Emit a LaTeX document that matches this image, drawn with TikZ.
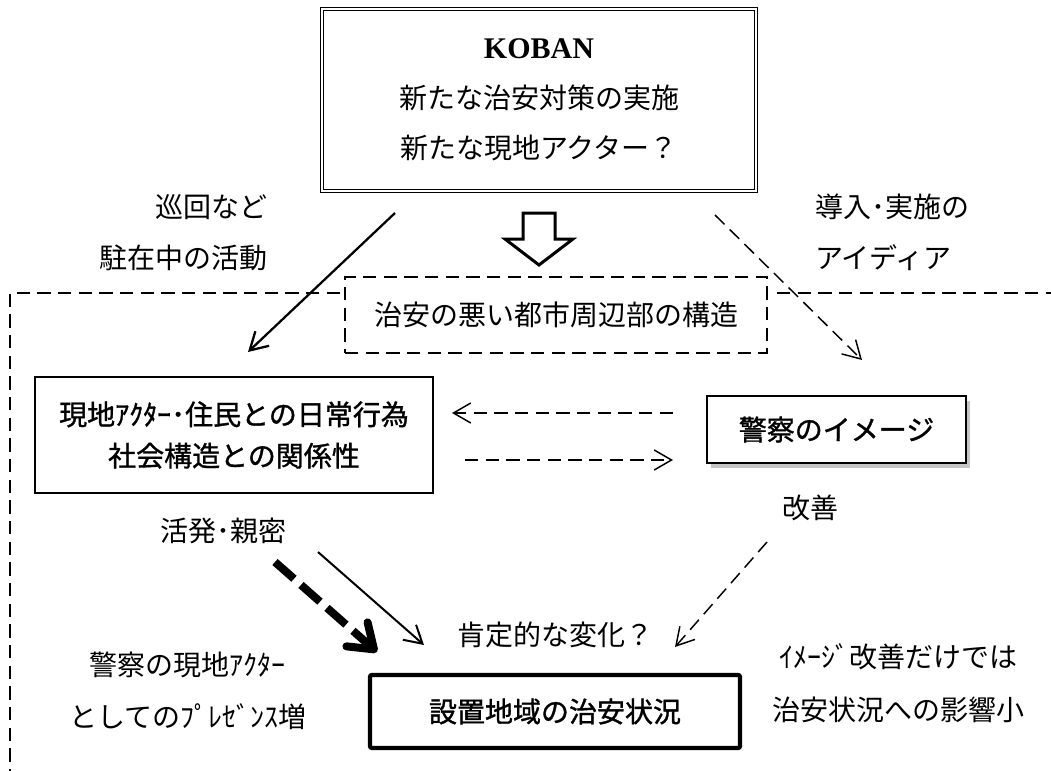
\documentclass[tikz,border=0pt]{standalone}
\usepackage{fontspec}
\setmainfont{Liberation Serif}
\newfontfamily\jp{Noto Sans CJK JP}
\newfontfamily\jpb[FakeBold=1.2]{Noto Sans CJK JP}
\usetikzlibrary{arrows.meta,shadows}
\tikzset{
  every node/.style={inner sep=0pt, font=\jp\fontsize{21}{28}\selectfont},
  frame/.style={line width=2.2pt, dash pattern=on 10pt off 5.5pt},
  box/.style={draw, line width=0.9pt, fill=white},
  darr/.style={line width=1.1pt, dash pattern=on 10pt off 5.5pt, -{Straight Barb[length=13pt,width=15pt]}},
  sarr/.style={line width=1.5pt, -{Straight Barb[length=13pt,width=15pt]}},
  thickarr/.style={line width=6pt, dash pattern=on 19pt off 7pt, -{Straight Barb[length=17pt,width=24pt,round]}},
  hollow/.style={line width=2.25pt, line join=miter, fill=white},
}
\begin{document}
\begin{tikzpicture}[x=0.75pt,y=-0.75pt]
\clip (0,0) rectangle (1051,771);
% outer dashed frame
\coordinate (fa) at (340,293);
\coordinate (fb) at (10,293);
\coordinate (fc) at (10,790);
\coordinate (fd) at (777,293);
\coordinate (fe) at (1070,293);
\draw[frame] (fa) -- (fb) -- (fc);
\draw[frame] (fd) -- (fe);
% KOBAN box
\node[draw, double, double distance=1.5pt, line width=0.75pt, minimum width=325.5pt, minimum height=136.5pt, align=center, font=\jp\fontsize{21}{37.5}\selectfont] (koban) at (539,100) {{\rmfamily\bfseries\fontsize{22.5}{37.5}\selectfont KOBAN}\\新たな治安対策の実施\\新たな現地アクター？};
% hollow arrow
\draw[hollow] (523,213) -- (523,239) -- (505,239) -- (539,265) -- (573,239) -- (555,239) -- (555,213) -- cycle;
% structure box
\node[draw, fill=white, frame, minimum width=316.5pt, minimum height=57pt] (slum) at (556,315) {治安の悪い都市周辺部の構造};
% local actor box
\node[box, minimum width=298.5pt, minimum height=87pt, align=center, font=\jpb\fontsize{21}{31}\selectfont] (genchi) at (234,435) {現地ｱｸﾀｰ･住民との日常行為\\社会構造との関係性};
% police image box
\node[box, drop shadow={shadow xshift=3pt, shadow yshift=-3.5pt, opacity=0.45}, minimum width=194.25pt, minimum height=50.25pt, font=\jpb\fontsize{21}{28}\selectfont] (image) at (836.5,429.5) {警察のイメージ};
% result box
\node[draw, line width=3.2pt, rounded corners=1.5pt, fill=white, minimum width=277.5pt, minimum height=54.75pt, font=\jpb\fontsize{21}{28}\selectfont] (result) at (555,711.5) {設置地域の治安状況};
% labels
\node[anchor=east, align=right, font=\jp\fontsize{21}{38.25}\selectfont] (lblA) at (268,232.5) {巡回など\\駐在中の活動};
\node[anchor=west, align=left, font=\jp\fontsize{21}{38.25}\selectfont] (lblB) at (815,232.5) {導入･実施の\\アイディア};
\node[anchor=east] (lblC) at (287,531) {活発･親密};
\node (lblD) at (810,508) {改善};
\node (lblE) at (555,635) {肯定的な変化？};
\node[align=center, font=\jp\fontsize{21}{39}\selectfont] (lblF) at (188,691) {警察の現地ｱｸﾀｰ\\としてのﾌﾟﾚｾﾞﾝｽ増};
\node[align=center, font=\jp\fontsize{21}{40}\selectfont] (lblG) at (898,683.5) {ｲﾒｰｼﾞ改善だけでは\\治安状況への影響小};
% connectors
\coordinate (a1s) at (395,213); \coordinate (a1e) at (248,352);
\draw[sarr, line width=1.7pt] (a1s) -- (a1e);
\coordinate (a2s) at (715,215); \coordinate (a2e) at (862,360);
\draw[darr] (a2s) -- (a2e);
\coordinate (a3s) at (673,413); \coordinate (a3e) at (452,413);
\draw[darr] (a3s) -- (a3e);
\coordinate (a4s) at (465,460); \coordinate (a4e) at (673,460);
\draw[darr] (a4s) -- (a4e);
\coordinate (a5s) at (767,542); \coordinate (a5e) at (675,647);
\draw[darr] (a5s) -- (a5e);
\coordinate (a6s) at (318,552); \coordinate (a6e) at (424,645);
\draw[sarr] (a6s) -- (a6e);
\coordinate (a7s) at (275,562); \coordinate (a7e) at (377,652);
\draw[thickarr] (a7s) -- (a7e);
\end{tikzpicture}
\end{document}
